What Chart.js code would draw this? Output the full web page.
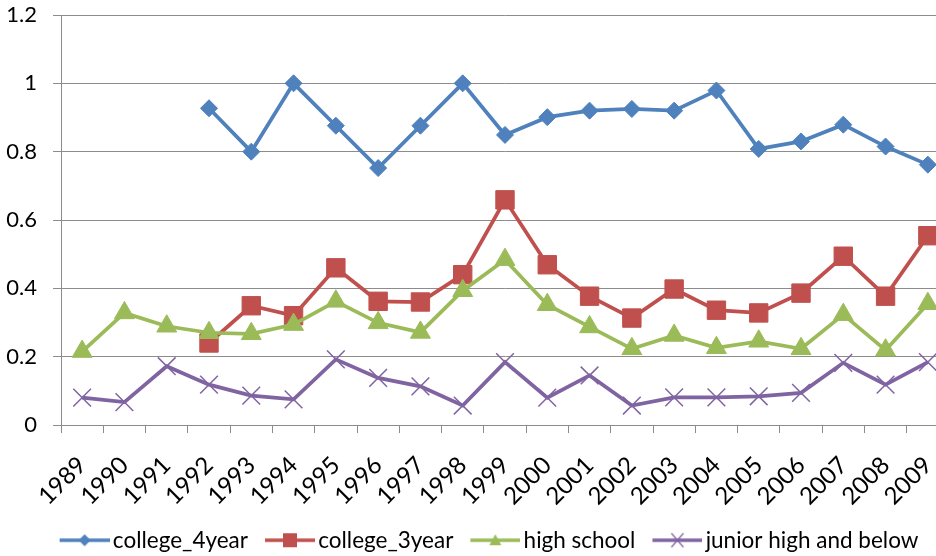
<!DOCTYPE html>
<html>
<head>
<meta charset="utf-8">
<script src="https://cdn.jsdelivr.net/npm/chart.js@4.4.1/dist/chart.umd.min.js"></script>
<style>
  html, body { margin: 0; padding: 0; background: #fff; overflow: hidden; }
  #wrap { width: 973px; height: 556px; }
</style>
</head>
<body>
<div id="wrap"><canvas id="eduChart" width="973" height="556"></canvas></div>
<script>
const years = ["1989", "1990", "1991", "1992", "1993", "1994", "1995", "1996", "1997", "1998", "1999",
               "2000", "2001", "2002", "2003", "2004", "2005", "2006", "2007", "2008", "2009"];

const college4Year = [null, null, null, 0.927, 0.80, 1.0, 0.876, 0.752, 0.876, 1.0, 0.849,
                      0.901, 0.92, 0.925, 0.92, 0.979, 0.808, 0.83, 0.879, 0.815, 0.762];
const college3Year = [null, null, null, 0.24, 0.349, 0.32, 0.46, 0.362, 0.36, 0.44, 0.659,
                      0.469, 0.377, 0.313, 0.398, 0.336, 0.328, 0.386, 0.494, 0.377, 0.554];
const highSchool   = [0.215, 0.328, 0.289, 0.27, 0.267, 0.294, 0.362, 0.299, 0.271, 0.393, 0.484,
                      0.352, 0.287, 0.223, 0.262, 0.226, 0.245, 0.223, 0.323, 0.219, 0.355];
const juniorHigh   = [0.08, 0.067, 0.172, 0.118, 0.086, 0.075, 0.192, 0.138, 0.113, 0.057, 0.184,
                      0.08, 0.145, 0.057, 0.081, 0.081, 0.084, 0.094, 0.182, 0.118, 0.184];

const yTicks = [0, 0.2, 0.4, 0.6, 0.8, 1, 1.2];

const BLUE = "#4F81BD", RED = "#C0504D", GREEN = "#9BBB59", PURPLE = "#8064A2";
const GRID = "#8c8c8c";
const FONT = "Lato, 'Liberation Sans', sans-serif";

// line + marker swatch for the legend; left 15px are blank so the swatch sits close to its text
function legendIcon(color, marker) {
    const c = document.createElement("canvas");
    c.width = 65; c.height = 24;
    const ctx = c.getContext("2d");
    ctx.strokeStyle = color;
    ctx.fillStyle = color;
    ctx.lineWidth = 3.5;
    ctx.beginPath(); ctx.moveTo(15, 12); ctx.lineTo(65, 12); ctx.stroke();
    const cx = 40;
    ctx.beginPath();
    if (marker === "diamond") {
        ctx.moveTo(cx, 6); ctx.lineTo(cx + 6, 12); ctx.lineTo(cx, 18); ctx.lineTo(cx - 6, 12); ctx.closePath(); ctx.fill();
    } else if (marker === "square") {
        ctx.rect(cx - 7, 5, 14, 14); ctx.fill();
    } else if (marker === "triangle") {
        ctx.moveTo(cx, 6); ctx.lineTo(cx + 6, 17); ctx.lineTo(cx - 6, 17); ctx.closePath(); ctx.fill();
    } else {
        ctx.lineWidth = 1.2;
        ctx.moveTo(cx - 6, 5); ctx.lineTo(cx + 6, 19); ctx.moveTo(cx + 6, 5); ctx.lineTo(cx - 6, 19); ctx.stroke();
    }
    return c;
}

function series(label, data, color, style, radius, icon, order) {
    return {
        label: label,
        data: data,
        borderColor: color,
        backgroundColor: color,
        borderWidth: 3.75,
        tension: 0,
        pointStyle: style,
        pointRadius: radius,
        pointBorderColor: color,
        pointBackgroundColor: color,
        pointBorderWidth: style === "crossRot" ? 1.5 : 1,
        legendIcon: icon,
        order: order
    };
}

const datasets = [
    series("college_4year", college4Year, BLUE, "rectRot", 8.5, legendIcon(BLUE, "diamond"), 4),
    series("college_3year", college3Year, RED, "rect", 13, legendIcon(RED, "square"), 3),
    series("high school", highSchool, GREEN, "triangle", 11.5, legendIcon(GREEN, "triangle"), 2),
    series("junior high and below", juniorHigh, PURPLE, "crossRot", 12.5, legendIcon(PURPLE, "cross"), 1)
];

// the legend is centred on the whole canvas, not on the padded plot width
const legendShift = {
    id: "legendShift",
    afterLayout(chart) {
        chart.legend.left += 11;
        chart.legend.right += 11;
    }
};

const ctx = document.getElementById("eduChart").getContext("2d");
new Chart(ctx, {
    type: "line",
    data: { labels: years, datasets: datasets },
    plugins: [legendShift],
    options: {
        responsive: false,
        animation: false,
        layout: { padding: { left: 0, right: 24, top: 0, bottom: -5.5 } },
        plugins: {
            tooltip: { enabled: false },
            legend: {
                position: "bottom",
                labels: {
                    usePointStyle: true,
                    pointStyleWidth: 49,
                    boxHeight: 20,
                    padding: 10,
                    color: "#000",
                    font: { family: FONT, size: 22.5 },
                    sort: (a, b) => a.datasetIndex - b.datasetIndex,
                    generateLabels: (chart) => chart.data.datasets.map((ds, i) => ({
                        text: ds.label,
                        datasetIndex: i,
                        pointStyle: ds.legendIcon,
                        fillStyle: ds.borderColor,
                        strokeStyle: ds.borderColor,
                        lineWidth: 0,
                        fontColor: "#000",
                        hidden: false
                    }))
                }
            }
        },
        scales: {
            x: {
                offset: true,
                afterFit: (axis) => { axis.height = 94; },
                border: { color: GRID, width: 1 },
                grid: { offset: true, drawOnChartArea: false, drawTicks: true, tickLength: 8, color: GRID },
                ticks: {
                    color: "#000",
                    font: { family: FONT, size: 24 },
                    minRotation: 45,
                    maxRotation: 45,
                    autoSkip: false,
                    padding: 18
                }
            },
            y: {
                min: 0,
                max: 1.2,
                afterBuildTicks: (axis) => { axis.ticks = yTicks.map(v => ({ value: v })); },
                afterFit: (axis) => {
                    axis.width = 61;
                    axis.paddingTop = 15;
                    axis.paddingBottom = 0;
                },
                border: { color: GRID, width: 1 },
                grid: { color: GRID, lineWidth: 1, tickLength: 8 },
                ticks: {
                    color: "#000",
                    font: { family: FONT, size: 22 },
                    padding: 16,
                    callback: (v) => String(+v.toFixed(1))
                }
            }
        }
    }
});
</script>
</body>
</html>
